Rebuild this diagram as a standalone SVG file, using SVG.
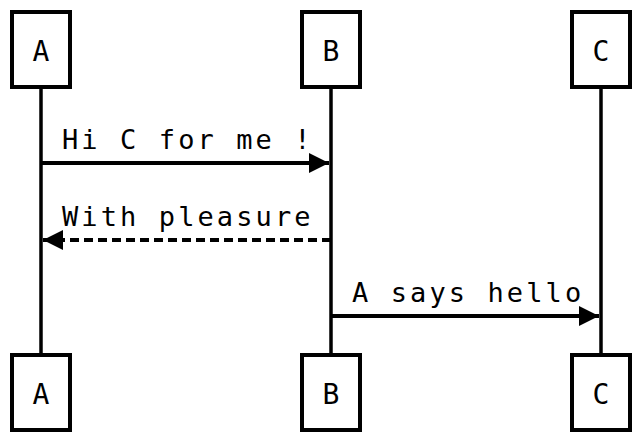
<svg xmlns="http://www.w3.org/2000/svg" width="642" height="444" viewBox="0 0 642 444">
<style>
.box{fill:#fff;stroke:#000;stroke-width:4}
.life{stroke:#000;stroke-width:3.5}
.lbl{font-family:"DejaVu Sans Mono",monospace;font-size:28px;text-anchor:middle;fill:#000}
.msg{font-family:"DejaVu Sans Mono",monospace;font-size:27px;letter-spacing:3.1px;fill:#000}
.line{stroke:#000;stroke-width:4;fill:none}
.dash{stroke-dasharray:9 5}
</style>
<defs>
<marker id="ah" markerWidth="20" markerHeight="20" viewBox="0 0 20 20" refX="20" refY="10" orient="auto" markerUnits="userSpaceOnUse">
<path d="M0,0 L20,10 L0,20 Z" fill="#000"/>
</marker>
</defs>
<g id="lifelines">
<line class="life" x1="41" y1="89" x2="41" y2="355"/>
<line class="life" x1="331" y1="89" x2="331" y2="355"/>
<line class="life" x1="601" y1="89" x2="601" y2="355"/>
</g>
<g id="connectors">
<line class="line" x1="41" y1="163" x2="329" y2="163" marker-end="url(#ah)"/>
<text class="msg" x="62" y="149">Hi C for me !</text>
<line class="line dash" x1="331" y1="240" x2="43" y2="240" marker-end="url(#ah)"/>
<text class="msg" x="62" y="226">With pleasure</text>
<line class="line" x1="331" y1="316" x2="599" y2="316" marker-end="url(#ah)"/>
<text class="msg" x="352" y="302">A says hello</text>
</g>
<g id="A_top"><rect class="box" x="12" y="12" width="58" height="75"/><text class="lbl" x="41" y="61">A</text></g>
<g id="B_top"><rect class="box" x="302" y="12" width="58" height="75"/><text class="lbl" x="331" y="61">B</text></g>
<g id="C_top"><rect class="box" x="572" y="12" width="58" height="75"/><text class="lbl" x="601" y="61">C</text></g>
<g id="A_bottom"><rect class="box" x="12" y="355" width="58" height="75"/><text class="lbl" x="41" y="404">A</text></g>
<g id="B_bottom"><rect class="box" x="302" y="355" width="58" height="75"/><text class="lbl" x="331" y="404">B</text></g>
<g id="C_bottom"><rect class="box" x="572" y="355" width="58" height="75"/><text class="lbl" x="601" y="404">C</text></g>
</svg>
